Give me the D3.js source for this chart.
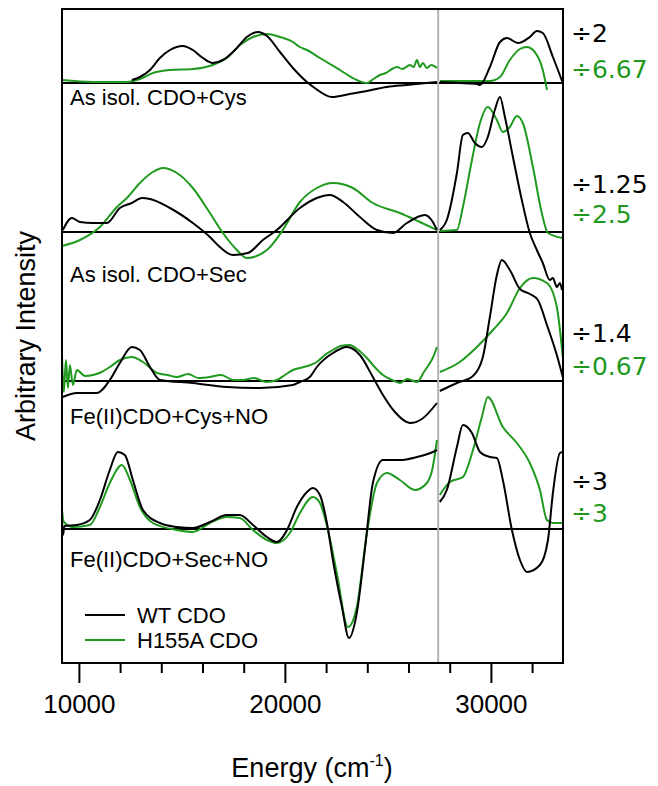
<!DOCTYPE html>
<meta charset="utf-8">
<style>
	body { margin: 0; background: #fff; }
	.frame { fill: none; stroke: #000; stroke-width: 2px; }
	.base { stroke: #000; stroke-width: 2px; }
	.split { stroke: #b4b4b4; stroke-width: 2px; }
	.line { fill: none; stroke-width: 2px; stroke-linejoin: round; }
	.tick line { stroke: #000; stroke-width: 2px; }
</style>
<svg id="chart" width="658" height="786"></svg>
<script src="https://d3js.org/d3.v7.min.js"></script>
<script>
	// [energy cm-1, intensity above own baseline]
	var cysWT_vis = [[12570,0.3],[12960,0.6],[13450,1.3],[13930,2.5],[14420,3.3],[15050,3.7],[15530,3.3],[16020,2.5],[16500,2.0],[16990,2.3],[17670,3.5],[18150,4.6],[18690,5.1],[19130,4.7],[19760,3.1],[20390,1.5],[21070,0.1],[21450,-0.5],[22280,-1.4],[23150,-1.1],[23980,-0.8],[24950,-0.4],[25920,-0.2],[27380,0.1]];
	var cysWT_uv = [[27520,0.1],[28490,0],[29320,-0.1],[29470,-0.2],[29950,1.6],[30440,4.1],[30780,4.5],[31310,4.0],[31890,4.6],[32230,5.2],[32520,5.0],[33010,2.6],[33490,0]];
	var cysMut_vis = [[9180,0.3],[10680,0.1],[12330,0.1],[12960,0.4],[13590,1.0],[14420,1.3],[15530,1.4],[16500,1.8],[17180,2.5],[17820,3.8],[18450,4.6],[19130,4.9],[19760,4.6],[20390,4.1],[20730,3.6],[21070,3.3],[21700,2.5],[22670,1.3],[23490,0.3],[23980,0],[24300,0.4],[24610,0.8],[24900,1.0],[25200,1.4],[25440,1.6],[25700,1.4],[26070,1.8],[26250,1.6],[26410,2.3],[26550,1.6],[26700,2.0],[26890,1.5],[27100,1.8],[27380,1.5]];
	var cysMut_uv = [[27520,0.2],[28980,0.2],[29950,0.2],[30440,0.6],[30920,2.3],[31410,3.4],[31750,3.6],[32230,2.8],[32520,1.3],[32720,-0.7]];

	var secWT_vis = [[9220,0.2],[9660,1.4],[10050,1.0],[10680,0.9],[11360,0.9],[11990,2.4],[12570,2.9],[13060,3.4],[13450,3.3],[14420,2.4],[15530,0.9],[16360,-0.5],[16840,-1.5],[17480,-2.3],[18200,-2.1],[18930,-0.8],[19610,0.2],[20730,2.4],[21550,3.4],[22180,3.7],[22820,3.0],[23640,1.5],[24470,0.2],[25240,-0.1],[25920,0.9],[26800,1.7],[27180,1.0],[27380,0.2]];
	var secWT_uv = [[27520,0.2],[27860,1.2],[28350,5.9],[28640,9.7],[28880,9.9],[29220,8.9],[29560,8.5],[29850,9.5],[30190,12.2],[30440,13.5],[30680,11.5],[31070,7.5],[31500,3.2],[31890,-0.1],[32230,-1.8],[32520,-3.1],[32860,-4.8],[33010,-4.6],[33200,-5.5],[33350,-5.1],[33450,-5.8]];
	var secMut_vis = [[9180,-1.4],[10050,-0.8],[11020,0.5],[11850,2.5],[12330,3.4],[12960,4.9],[13590,6.0],[14080,6.4],[14760,5.9],[15530,4.4],[16360,1.9],[16990,-0.1],[17670,-1.8],[18150,-2.6],[19130,-1.8],[19900,0.2],[20730,3.0],[21550,4.4],[22330,4.9],[23300,4.4],[24270,2.9],[25580,1.9],[26550,1.0],[27380,0.2]];
	var secMut_uv = [[27520,0.1],[28350,0.2],[28640,2.5],[29080,7.2],[29470,10.9],[29850,12.5],[30290,11.2],[30580,10.0],[30920,10.5],[31260,11.6],[31550,10.9],[32040,6.5],[32470,1.9],[32770,-0.1],[33490,-0.6]];

	var cysNoWT_vis = [[9220,-1.6],[9900,-1.2],[10870,-1.2],[11500,0.1],[11990,1.8],[12570,3.4],[12960,3.1],[13450,1.4],[13930,0.1],[15530,-0.2],[17180,-0.6],[18790,-0.7],[20390,-0.4],[20730,-0.1],[21210,0.4],[21550,1.4],[22330,2.8],[23010,3.4],[23640,2.6],[24270,0.4],[24760,-1.4],[25340,-3.1],[26070,-4.2],[26650,-3.8],[27380,-2.2]];
	var cysNoWT_uv = [[27520,-1.0],[28350,-0.2],[29130,0.5],[29610,2.4],[29950,6.4],[30290,10.6],[30530,12.1],[30920,11.1],[31410,9.2],[31890,8.7],[32280,8.1],[32720,5.6],[33200,2.6],[33490,0.4]];
	var cysNoMut_vis = [[9180,2.6],[9270,-1.1],[9370,2.1],[9470,-0.7],[9560,1.6],[9710,-0.4],[9900,1.1],[10300,0.5],[10680,0.6],[11100,0.9],[11500,1.4],[11990,2.1],[12570,2.4],[13110,1.9],[13790,0.8],[14300,0.6],[14760,0.4],[15300,0.7],[15800,0.3],[16360,0.4],[16900,0.6],[17500,0.1],[17960,0.1],[18500,0.3],[19100,-0.1],[19610,0.1],[20000,0.6],[20390,1.1],[20730,1.3],[21100,1.5],[21550,1.9],[22000,2.7],[22330,3.1],[22700,3.5],[23150,3.6],[23500,3.2],[23980,2.3],[24400,1.3],[24760,0.6],[25200,0.1],[25580,-0.2],[25950,0.2],[26410,-0.1],[26750,0.9],[27040,1.8],[27200,2.4],[27380,3.4]];
	var cysNoMut_uv = [[27520,0.9],[28490,1.9],[29320,3.4],[30100,5.1],[30780,6.8],[31410,9.3],[32040,10.3],[32720,9.8],[33200,7.4],[33490,2.4]];

	var secNoWT_vis = [[9180,0.9],[9230,-0.6],[9300,0.3],[9900,0.4],[10530,0.9],[11020,2.9],[11500,5.9],[11890,7.7],[12230,7.4],[12620,4.9],[13110,1.9],[13930,0.6],[14760,0.2],[15530,0.1],[16360,0.7],[17180,1.4],[17810,1.4],[18450,0.4],[19130,-0.8],[19610,-1.3],[20100,-0.1],[20580,2.2],[21070,3.7],[21360,4.1],[21700,3.4],[22040,0.6],[22330,-3.1],[22770,-7.8],[23110,-10.9],[23490,-8.4],[23880,-2.1],[24270,4.6],[24760,6.9],[25580,6.9],[26410,7.2],[27180,7.7],[27380,7.9]];
	var secNoWT_uv = [[27520,2.7],[27860,3.9],[28350,8.2],[28640,10.4],[29080,9.6],[29470,7.7],[29950,7.2],[30290,7.1],[30580,4.9],[31020,-0.1],[31410,-3.1],[31750,-4.3],[32380,-3.6],[32770,-1.1],[33010,3.6],[33350,7.6],[33490,7.7]];
	var secNoMut_vis = [[9180,1.9],[9270,0.7],[9710,0.2],[10530,0.4],[11020,2.2],[11500,4.6],[12090,6.4],[12480,4.9],[12960,2.2],[13590,0.6],[14760,-0.1],[15530,-0.3],[16360,0.6],[17180,1.2],[17810,1.1],[18450,-0.1],[19130,-1.1],[19610,-1.4],[20240,-0.4],[20730,1.6],[21360,3.2],[21700,2.6],[22090,-0.1],[22520,-4.4],[23060,-9.8],[23490,-7.8],[23980,-0.4],[24470,4.6],[24950,5.6],[25580,4.9],[26310,3.9],[26890,4.6],[27180,6.2],[27380,8.9]];
	var secNoMut_uv = [[27520,3.4],[28010,4.7],[28640,5.2],[29130,7.9],[29560,11.2],[29850,13.2],[30580,10.2],[31260,8.6],[31890,6.6],[32380,3.9],[32720,0.9],[33010,0.6],[33490,0.6]];

	var traceNames = ["As isol. CDO+Cys", "As isol. CDO+Sec", "Fe(II)CDO+Cys+NO", "Fe(II)CDO+Sec+NO"];
	var offsets = [44.6, 29.7, 14.8, 0];
	var wtDivisors = ["÷2", "÷1.25", "÷1.4", "÷3"];
	var mutDivisors = ["÷6.67", "÷2.5", "÷0.67", "÷3"];
	var seriesNames = ["WT CDO", "H155A CDO"];
	var splitEnergy = 27440;
	var majorTicks = [10000, 20000, 30000];
	var minorTicks = [12000, 14000, 16000, 18000, 22000, 24000, 26000, 28000, 32000];

	var wtData = [[cysWT_vis, cysWT_uv], [secWT_vis, secWT_uv], [cysNoWT_vis, cysNoWT_uv], [secNoWT_vis, secNoWT_uv]];
	var mutData = [[cysMut_vis, cysMut_uv], [secMut_vis, secMut_uv], [cysNoMut_vis, cysNoMut_uv], [secNoMut_vis, secNoMut_uv]];

	var colors = {wt: "#000000", mut: "#1f9a1f"};

	var svg = d3.select("#chart"),
	margin = {top: 9, right: 95, bottom: 123, left: 62},
	width = svg.attr("width") - margin.left - margin.right,
	height = svg.attr("height") - margin.top - margin.bottom,
	g = svg.append("g").attr("transform", "translate(" + margin.left + "," + margin.top + ")");

	var x = d3.scaleLinear().domain([9180, 33500]).range([0, width]);
	var y = d3.scaleLinear().domain([-13.4, 52.0]).range([height, 0]);

	g.append("clipPath").attr("id", "clip")
	.append("rect").attr("width", width).attr("height", height);

	// zero lines for each trace
	g.selectAll(".base")
	.data(offsets)
	.enter().append("line")
	.attr("class", "base")
	.attr("x1", 0).attr("x2", width)
	.attr("y1", function(d) { return y(d); })
	.attr("y2", function(d) { return y(d); });

	g.append("line")
	.attr("class", "split")
	.attr("x1", x(splitEnergy)).attr("x2", x(splitEnergy))
	.attr("y1", 0).attr("y2", height);

	var plot = g.append("g").attr("clip-path", "url(#clip)");

	function drawSet(sets, color) {
		sets.forEach(function(pair, i) {
			var line = d3.line()
			.curve(d3.curveMonotoneX)
			.x(function(d) { return x(d[0]); })
			.y(function(d) { return y(d[1] + offsets[i]); });
			pair.forEach(function(seg) {
				plot.append("path")
				.attr("class", "line")
				.attr("d", line(seg))
				.style("stroke", color);
			});
		});
	}
	drawSet(mutData, colors.mut);
	drawSet(wtData, colors.wt);

	g.append("rect").attr("class", "frame").attr("width", width).attr("height", height);

	// x axis
	var xAxis = g.append("g")
	.attr("transform", "translate(0," + height + ")")
	.call(d3.axisBottom(x).tickValues(majorTicks).tickSize(20).tickPadding(12).tickFormat(d3.format("d")));
	xAxis.select(".domain").remove();
	xAxis.selectAll("text")
	.style("font", "26px 'Liberation Sans', Arial, sans-serif")
	.attr("fill", "#000");

	var xMinor = g.append("g")
	.attr("transform", "translate(0," + height + ")")
	.call(d3.axisBottom(x).tickValues(minorTicks).tickSize(10).tickFormat(""));
	xMinor.select(".domain").remove();

	var title = g.append("text")
	.attr("x", 250)
	.attr("y", 768)
	.attr("text-anchor", "middle")
	.style("font", "27px 'Liberation Sans', Arial, sans-serif");
	title.append("tspan").text("Energy (cm");
	title.append("tspan").attr("dy", -11).style("font-size", "16px").text("-1");
	title.append("tspan").attr("dy", 11).text(")");

	g.append("text")
	.attr("transform", "translate(-27," + 327 + ") rotate(-90)")
	.attr("text-anchor", "middle")
	.style("font", "27px 'Liberation Sans', Arial, sans-serif")
	.text("Arbitrary Intensity");

	// trace labels, placed under each zero line
	var labelDrop = [22, 50, 43, 38];
	g.selectAll(".tlabel")
	.data(traceNames)
	.enter().append("text")
	.attr("class", "tlabel")
	.attr("x", 8)
	.attr("y", function(d, i) { return y(offsets[i]) + labelDrop[i]; })
	.style("font", "22px 'Liberation Sans', Arial, sans-serif")
	.text(function(d) { return d; });

	// divisor labels at right
	var wtDivY = [33, 184, 333, 481];
	var mutDivY = [69, 214, 366, 513];
	g.selectAll(".wdiv")
	.data(wtDivisors)
	.enter().append("text")
	.attr("x", width + 8)
	.attr("y", function(d, i) { return wtDivY[i]; })
	.attr("fill", colors.wt)
	.style("font", "25px 'DejaVu Sans', Verdana, sans-serif")
	.text(function(d) { return d; });
	g.selectAll(".mdiv")
	.data(mutDivisors)
	.enter().append("text")
	.attr("x", width + 8)
	.attr("y", function(d, i) { return mutDivY[i]; })
	.attr("fill", colors.mut)
	.style("font", "25px 'DejaVu Sans', Verdana, sans-serif")
	.text(function(d) { return d; });

	// legend
	var legend = g.append("g").attr("transform", "translate(23,606)");
	seriesNames.forEach(function(name, i) {
		var row = legend.append("g").attr("transform", "translate(0," + (i * 25) + ")");
		row.append("line")
		.attr("x1", 0).attr("x2", 40)
		.attr("stroke", i == 0 ? colors.wt : colors.mut)
		.attr("stroke-width", 2);
		row.append("text")
		.attr("x", 52).attr("y", 8)
		.style("font", "22px 'Liberation Sans', Arial, sans-serif")
		.text(name);
	});
</script>
